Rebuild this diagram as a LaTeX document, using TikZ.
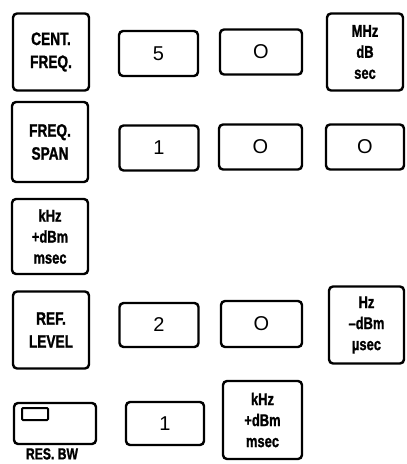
\documentclass[tikz,border=0pt]{standalone}
\usepackage{fontspec}
\newfontfamily\keyfont{Liberation Sans}[FakeStretch=0.76, BoldFeatures={FakeBold=1.2}]
\usetikzlibrary{positioning}

\begin{document}
\begin{tikzpicture}[
    x=1pt, y=-1pt,
    key/.style={draw, line width=2.4pt, rounded corners=4pt, align=center, inner sep=0pt, font=\keyfont\bfseries},
    bigkey/.style={key, minimum width=76pt, minimum height=77pt, font=\keyfont\bfseries\fontsize{18}{23}\selectfont},
    unitkey/.style={key, minimum width=76pt, minimum height=77pt, font=\keyfont\bfseries\fontsize{17}{21}\selectfont},
    digit/.style={key, minimum width=79pt, minimum height=45pt, font=\fontspec{Liberation Sans}\fontsize{20}{20}\selectfont},
]
\useasboundingbox (0,0) rectangle (407,464);

% row 1
\node[bigkey] (cent) at (51,52) {CENT.\\FREQ.};
\node[digit] (c5) at (158.5,53.5) {5};
\node[digit, minimum width=82pt] (c0) at (261,52) {O};
\node[unitkey] (mhz) at (365,52) {MHz\\dB\\sec};

% row 2
\node[bigkey, minimum height=80pt] (span) at (50,142) {FREQ.\\SPAN};
\node[digit] (s1) at (159,148) {1};
\node[digit, minimum width=83pt] (s0a) at (260.5,147) {O};
\node[digit, minimum width=78pt] (s0b) at (365,147) {O};

% row 3
\node[unitkey, minimum height=75pt] (khz) at (50,236.5) {kHz\\+dBm\\msec};

% row 4
\node[bigkey] (ref) at (51,330) {REF.\\LEVEL};
\node[digit, minimum height=44pt] (r2) at (159,325) {2};
\node[digit, minimum width=81pt, minimum height=46pt] (r0) at (261.5,324) {O};
\node[unitkey, minimum width=75pt] (hz) at (366.5,325) {Hz\\\textendash dBm\\µsec};

% row 5
\node[key, minimum width=82pt, minimum height=41pt] (resbw) at (55,423.5) {};
\draw[line width=2pt, rounded corners=1pt] (22,408) rectangle (48,420);
\node[font=\keyfont\bfseries\fontsize{16}{16}\selectfont, anchor=north, inner sep=0pt] (bwlabel) at (52,448) {RES. BW};
\node[digit, minimum width=78pt, minimum height=43pt] (b1) at (165,423.5) {1};
\node[unitkey, minimum width=79pt, minimum height=78pt] (khzb) at (262.5,420) {kHz\\+dBm\\msec};

\end{tikzpicture}
\end{document}
